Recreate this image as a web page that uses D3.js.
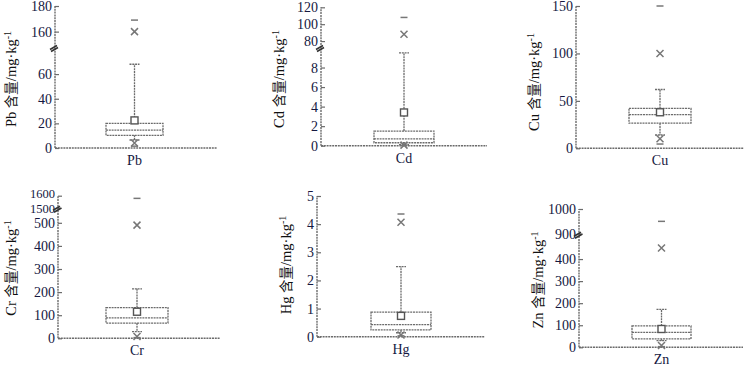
<!DOCTYPE html>
<html><head><meta charset="utf-8">
<script src="https://cdn.jsdelivr.net/npm/d3@7"></script>
<style>
html,body{margin:0;padding:0;background:#fff;}
svg{display:block;}
text{font-family:"Liberation Serif","Times New Roman","Noto Sans CJK SC",serif;}
</style></head>
<body>
<svg id="c" width="756" height="368"></svg>
<script>
// ---- data ----
const elements   = ["Pb", "Cd", "Cu", "Cr", "Hg", "Zn"];
const minVals    = [1.5, 0.03, 4.5, 3, 0.03, 3];
const p1Vals     = [4, 0.06, 10, 8, 0.06, 8];
const whiskerLo  = [6.5, 0.1, 14, 29, 0.14, 30];
const q1Vals     = [10.3, 0.3, 26.5, 66, 0.24, 38];
const medianVals = [14.5, 0.7, 35.5, 88, 0.43, 68];
const q3Vals     = [20, 1.5, 42, 133, 0.87, 97];
const whiskerHi  = [68, 9.5, 62, 214, 2.49, 172];
const p99Vals    = [160, 88, 100, 490, 4.07, 450];
const maxVals    = [169, 108, 150, 1578, 4.36, 950];
const meanVals   = [22.4, 3.4, 38, 115, 0.74, 83];
// axis domains: lower segment [0, lowerMax]; upper segment [upperMin, upperMax] (null = no break)
const lowerMax   = [82, 10.1, 150, 565, 5, 515];
const upperMin   = [148, 73, null, 1500, null, 900];
const upperMax   = [180, 120, null, 1600, null, 1000];
const lowerTicks = [[0,20,40,60],[0,2,4,6,8],[0,50,100,150],[0,100,200,300,400,500],[0,1,2,3,4,5],[0,100,200,300,400]];
const upperTicks = [[160,180],[80,100,120],[],[1500,1600],[],[900,1000]];

// ---- layout (pixels) ----
const layout = [
  {ax:55,  end:217, y0:148,   yb:47,    yt:6,     bl:106, br:163, tx:16,  ty:79},
  {ax:321, end:487, y0:145.7, yb:47,    yt:7.3,   bl:374, br:434, tx:284, ty:79},
  {ax:576, end:744, y0:148.3, yb:null,  yt:6,     bl:629, br:691, tx:539, ty:82},
  {ax:58,  end:220, y0:338.3, yb:207.8, yt:195.7, bl:106, br:168, tx:16,  ty:268},
  {ax:317, end:485, y0:336.7, yb:null,  yt:196,   bl:371, br:431, tx:291, ty:265},
  {ax:579, end:743, y0:347.3, yb:233.7, yt:209,   bl:632, br:691, tx:543, ty:280}
];

const svg = d3.select("#c");
const lineCol = "#6b6b6b";
const textCol = "#15183f";
const dash = "2,0.8";

elements.forEach((el, i) => {
  const L = layout[i];
  const g = svg.append("g");
  const hasBreak = upperMin[i] !== null;
  const lower = d3.scaleLinear().domain([0, lowerMax[i]]).range([L.y0, hasBreak ? L.yb : L.yt]);
  const upper = hasBreak ? d3.scaleLinear().domain([upperMin[i], upperMax[i]]).range([L.yb, L.yt]) : null;
  const y = v => (hasBreak && v >= upperMin[i]) ? upper(v) : lower(v);
  const cx = (L.bl + L.br) / 2;

  // axes lines
  g.append("line").attr("x1", L.ax).attr("x2", L.ax).attr("y1", L.y0).attr("y2", L.yt)
    .attr("stroke", lineCol).attr("stroke-width", 1.4).attr("stroke-dasharray", dash);
  g.append("line").attr("x1", L.ax).attr("x2", L.end).attr("y1", L.y0).attr("y2", L.y0)
    .attr("stroke", lineCol).attr("stroke-width", 1.4).attr("stroke-dasharray", dash);

  const mkAxis = (scale, ticks, fs, shift) => {
    const a = g.append("g").attr("transform", `translate(${L.ax},0)`)
      .call(d3.axisLeft(scale).tickValues(ticks).tickFormat(d3.format("d"))
        .tickSizeInner(-4).tickSizeOuter(0).tickPadding(3));
    a.select(".domain").remove();
    a.selectAll(".tick line").attr("stroke", lineCol).attr("stroke-width", 1.2);
    a.selectAll(".tick text").attr("fill", textCol).attr("font-size", fs)
      .style("font-family", '"Liberation Serif","Times New Roman",serif');
    if (shift) a.selectAll(".tick text").attr("y", (d, k) => shift[k] || 0);
  };
  mkAxis(lower, lowerTicks[i], 14);
  if (hasBreak) {
    const tight = (L.yb - L.yt) < 16;
    mkAxis(upper, upperTicks[i], tight ? 12.5 : 14, tight ? [0.5, -2.5] : null);
    // break marker
    g.append("path").attr("d", `M${L.ax-5},${L.yb+2.5}L${L.ax+2},${L.yb-1.5}M${L.ax-4},${L.yb+4.5}L${L.ax+3},${L.yb+0.5}`)
      .attr("stroke", "#333").attr("stroke-width", 1.6).attr("fill", "none");
  }

  // whiskers
  const st = s => s.attr("stroke", lineCol).attr("stroke-width", 1.3).attr("stroke-dasharray", dash).attr("fill", "none");
  st(g.append("line").attr("x1", cx).attr("x2", cx).attr("y1", y(q3Vals[i])).attr("y2", y(whiskerHi[i])));
  st(g.append("line").attr("x1", cx).attr("x2", cx).attr("y1", y(q1Vals[i])).attr("y2", y(whiskerLo[i])));
  st(g.append("line").attr("x1", cx-5).attr("x2", cx+5).attr("y1", y(whiskerHi[i])).attr("y2", y(whiskerHi[i])));
  st(g.append("line").attr("x1", cx-5).attr("x2", cx+5).attr("y1", y(whiskerLo[i])).attr("y2", y(whiskerLo[i])));
  // box
  st(g.append("rect").attr("x", L.bl).attr("width", L.br - L.bl)
    .attr("y", y(q3Vals[i])).attr("height", y(q1Vals[i]) - y(q3Vals[i])).attr("fill", "#fff"));
  st(g.append("line").attr("x1", L.bl).attr("x2", L.br).attr("y1", y(medianVals[i])).attr("y2", y(medianVals[i])));
  // mean square
  g.append("rect").attr("x", cx-3.5).attr("y", y(meanVals[i])-3.5).attr("width", 7).attr("height", 7)
    .attr("fill", "#fff").attr("stroke", "#555").attr("stroke-width", 1.4);
  // 1% / 99% crosses
  [p1Vals[i], p99Vals[i]].forEach(v => {
    const yy = y(v);
    g.append("path").attr("d", `M${cx-3.5},${yy-3.5}L${cx+3.5},${yy+3.5}M${cx-3.5},${yy+3.5}L${cx+3.5},${yy-3.5}`)
      .attr("stroke", "#777").attr("stroke-width", 1.5).attr("fill", "none");
  });
  // min / max dashes
  [minVals[i], maxVals[i]].forEach(v => {
    const yy = y(v);
    g.append("line").attr("x1", cx-3.5).attr("x2", cx+3.5).attr("y1", yy).attr("y2", yy)
      .attr("stroke", "#777").attr("stroke-width", 1.5);
  });

  // category label
  g.append("text").attr("x", cx).attr("y", L.y0 + 17).attr("text-anchor", "middle")
    .attr("fill", textCol).attr("font-size", 14).text(el);

  // y title
  const t = g.append("text").attr("transform", `translate(${L.tx},${L.ty}) rotate(-90)`)
    .attr("text-anchor", "middle").attr("font-size", 14.5).attr("fill", "#111");
  t.append("tspan").text(el + " ");
  t.append("tspan").style("font-family", '"Noto Sans CJK SC",sans-serif').attr("font-size", 13.5).text("含量");
  t.append("tspan").text("/mg·kg");
  t.append("tspan").attr("font-size", 10).attr("dy", -5).text("-1");
});
</script>
</body></html>
